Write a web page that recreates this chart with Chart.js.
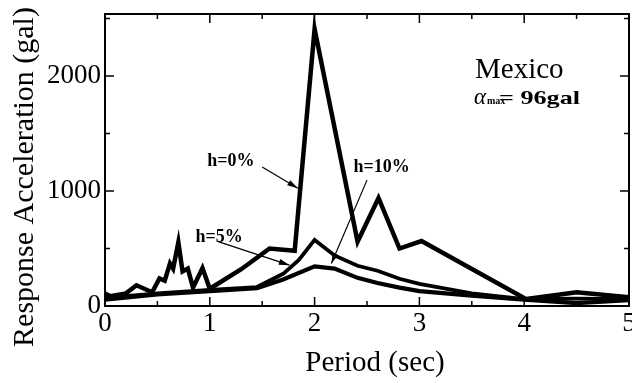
<!DOCTYPE html>
<html>
<head>
<meta charset="utf-8">
<script src="https://cdn.jsdelivr.net/npm/chart.js@4/dist/chart.umd.min.js"></script>
<style>
  html, body { margin: 0; padding: 0; background: #fff; }
  #wrap { width: 632px; height: 383px; }
</style>
</head>
<body>
<div id="wrap"><canvas id="myChart" width="632" height="383"></canvas></div>
<script>
// response spectra, Mexico record
const period0 = [0, 0.05, 0.2, 0.3, 0.45, 0.52, 0.57, 0.62, 0.65, 0.70, 0.74, 0.79, 0.84, 0.93, 1.0, 1.3, 1.57, 1.81, 2.0, 2.41, 2.61, 2.81, 3.02, 4.02, 4.5, 5.0];
const accel0 = [110, 85, 110, 180, 120, 240, 220, 370, 325, 555, 300, 325, 160, 330, 150, 320, 500, 480, 2410, 560, 940, 500, 565, 60, 120, 75];

const period5 = [0, 0.5, 1.0, 1.45, 1.7, 1.85, 2.0, 2.19, 2.41, 2.6, 2.81, 3.0, 3.5, 4.0, 4.5, 5.0];
const accel5 = [70, 110, 140, 165, 280, 400, 575, 440, 350, 307, 237, 193, 110, 60, 65, 60];

const period10 = [0, 0.5, 1.0, 1.45, 1.7, 2.0, 2.19, 2.41, 2.6, 2.81, 3.0, 3.5, 4.0, 4.5, 5.0];
const accel10 = [55, 100, 130, 155, 230, 345, 325, 245, 200, 160, 130, 90, 55, 25, 50];

const xTicks = [0, 1, 2, 3, 4, 5];
const yTicks = [0, 1000, 2000];

// labels with arrows: text position and arrow from/to, in data units
const notes = [
  { text: "h=0%", x: 1.2, y: 1255, from: [1.5, 1210], to: [1.84, 1025] },
  { text: "h=5%", x: 1.09, y: 600, from: [1.08, 560], to: [1.76, 355] },
  { text: "h=10%", x: 2.64, y: 1210, from: [2.5, 1095], to: [2.16, 370] }
];

const serif = "'Liberation Serif', 'Times New Roman', serif";

function pts(xs, ys) {
  return xs.map((x, i) => ({ x: x, y: ys[i] }));
}

function arrow(ctx, x1, y1, x2, y2) {
  const a = Math.atan2(y2 - y1, x2 - x1);
  ctx.beginPath();
  ctx.moveTo(x1, y1);
  ctx.lineTo(x2, y2);
  ctx.lineWidth = 1.2;
  ctx.stroke();
  ctx.beginPath();
  ctx.moveTo(x2, y2);
  ctx.lineTo(x2 - 11 * Math.cos(a - 0.28), y2 - 11 * Math.sin(a - 0.28));
  ctx.lineTo(x2 - 11 * Math.cos(a + 0.28), y2 - 11 * Math.sin(a + 0.28));
  ctx.closePath();
  ctx.fill();
}

// draw text squeezed/stretched to a given width
function fitText(ctx, txt, x, y, w) {
  const m = ctx.measureText(txt).width;
  ctx.save();
  ctx.translate(x, y);
  ctx.scale(w / m, 1);
  ctx.fillText(txt, 0, 0);
  ctx.restore();
}

const framePlugin = {
  id: "frame",
  afterDatasetsDraw(chart) {
    const ctx = chart.ctx;
    const a = chart.chartArea;
    const xs = chart.scales.x, ys = chart.scales.y;
    ctx.save();
    ctx.strokeStyle = "#000";
    ctx.fillStyle = "#000";
    ctx.lineWidth = 2;
    ctx.strokeRect(a.left, a.top, a.right - a.left, a.bottom - a.top);

    // inward ticks on all four sides
    ctx.lineWidth = 1.5;
    ctx.beginPath();
    for (let v = 0.5; v < 5; v += 0.5) {
      const len = Number.isInteger(v) ? 9 : 5;
      const px = xs.getPixelForValue(v);
      ctx.moveTo(px, a.bottom); ctx.lineTo(px, a.bottom - len);
      ctx.moveTo(px, a.top); ctx.lineTo(px, a.top + len);
    }
    for (let v = 500; v < ys.max; v += 500) {
      const len = v % 1000 === 0 ? 9 : 5;
      const py = ys.getPixelForValue(v);
      ctx.moveTo(a.left, py); ctx.lineTo(a.left + len, py);
      ctx.moveTo(a.right, py); ctx.lineTo(a.right - len, py);
    }
    ctx.stroke();

    // annotations
    ctx.font = "bold 18px " + serif;
    ctx.textAlign = "center";
    ctx.textBaseline = "middle";
    notes.forEach(n => {
      ctx.fillText(n.text, xs.getPixelForValue(n.x), ys.getPixelForValue(n.y));
      arrow(ctx, xs.getPixelForValue(n.from[0]), ys.getPixelForValue(n.from[1]),
        xs.getPixelForValue(n.to[0]), ys.getPixelForValue(n.to[1]));
    });

    ctx.textAlign = "left";
    ctx.textBaseline = "alphabetic";
    ctx.font = "29px " + serif;
    ctx.fillText("Mexico", 475, 78);
    ctx.font = "italic 24px " + serif;
    fitText(ctx, "\u03b1", 474, 104, 12);
    ctx.font = "bold 10px " + serif;
    ctx.fillText("max", 487, 104);
    ctx.font = "bold 19px " + serif;
    fitText(ctx, "= 96gal", 499, 104, 81);

    // axis titles
    ctx.font = "29px " + serif;
    ctx.textAlign = "center";
    ctx.fillText("Period (sec)", 375, 371);
    ctx.save();
    ctx.translate(33, 177);
    ctx.rotate(-Math.PI / 2);
    ctx.font = "30px " + serif;
    ctx.fillText("Response Acceleration (gal)", 0, 0);
    ctx.restore();
    ctx.restore();
  }
};

const data = {
  datasets: [
    { label: "h=0%", data: pts(period0, accel0), borderWidth: 4.5 },
    { label: "h=5%", data: pts(period5, accel5), borderWidth: 3.8 },
    { label: "h=10%", data: pts(period10, accel10), borderWidth: 4.2 }
  ].map(d => Object.assign(d, {
    borderColor: "#000",
    backgroundColor: "#000",
    pointRadius: 0,
    tension: 0,
    fill: false,
    borderJoinStyle: "miter"
  }))
};

const config = {
  type: "line",
  data: data,
  options: {
    animation: false,
    responsive: false,
    layout: { padding: { top: 14, right: 3, left: 0, bottom: 0 } },
    plugins: { legend: { display: false }, tooltip: { enabled: false } },
    scales: {
      x: {
        type: "linear",
        min: 0,
        max: 5,
        grid: { display: false, drawTicks: false },
        border: { display: false },
        afterBuildTicks: s => { s.ticks = xTicks.map(v => ({ value: v })); },
        afterFit: s => { s.height = 77; s.paddingLeft = 0; s.paddingRight = 0; },
        ticks: {
          padding: 2,
          color: "#000",
          maxRotation: 0,
          font: { family: serif, size: 27 },
          callback: v => String(v)
        }
      },
      y: {
        min: 0,
        max: 2540,
        grid: { display: false, drawTicks: false },
        border: { display: false },
        afterBuildTicks: s => { s.ticks = yTicks.map(v => ({ value: v })); },
        afterFit: s => { s.width = 105; s.paddingTop = 0; s.paddingBottom = 0; },
        ticks: {
          padding: 4,
          color: "#000",
          font: { family: serif, size: 27 },
          callback: v => String(v)
        }
      }
    }
  },
  plugins: [framePlugin]
};

const myChart = new Chart(document.getElementById("myChart"), config);
</script>
</body>
</html>
